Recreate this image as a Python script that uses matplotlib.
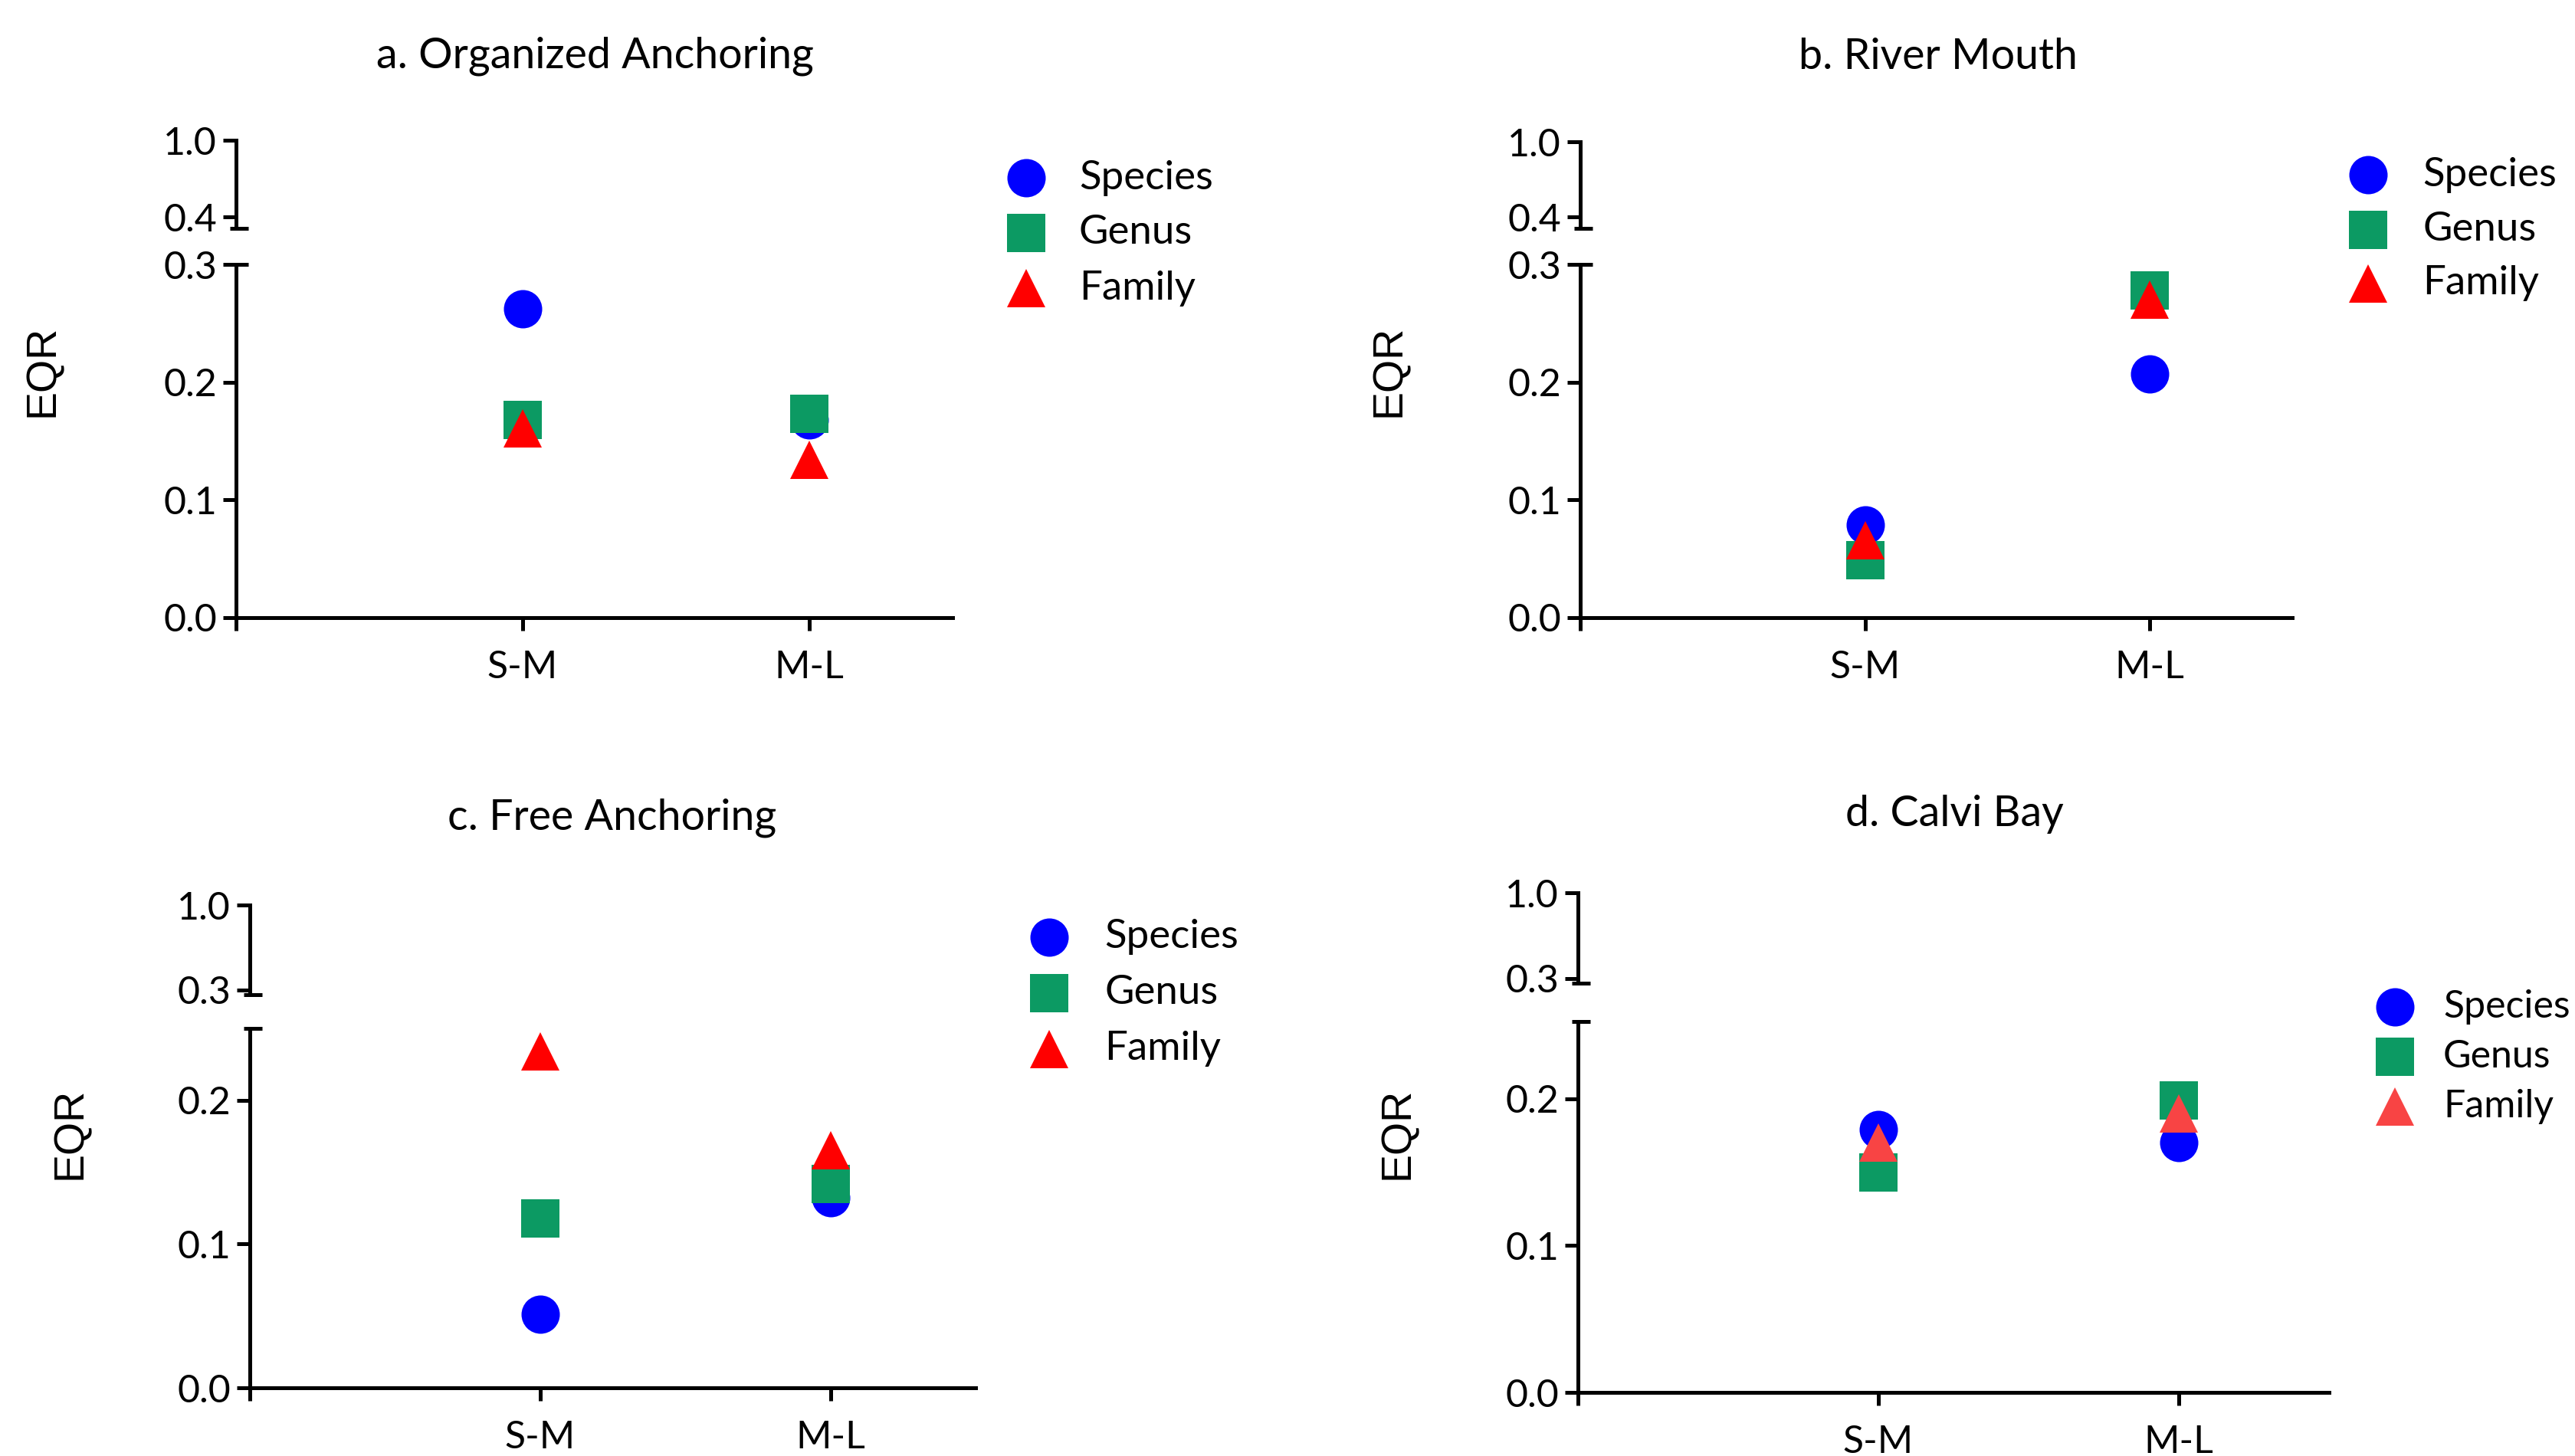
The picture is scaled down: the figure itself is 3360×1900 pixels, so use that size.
import matplotlib
matplotlib.use("Agg")
import matplotlib.pyplot as plt

plt.rcParams['font.family'] = ['Lato', 'DejaVu Sans']

W, H = 3360, 1900
DPI = 200

categories = ['S-M', 'M-L']
series_names = ['Species', 'Genus', 'Family']

# EQR values (S-M, M-L)
species_a = [0.262, 0.168]
genus_a = [0.168, 0.173]
family_a = [0.161, 0.134]

species_b = [0.079, 0.207]
genus_b = [0.049, 0.278]
family_b = [0.066, 0.270]

species_c = [0.051, 0.132]
genus_c = [0.118, 0.142]
family_c = [0.234, 0.165]

species_d = [0.179, 0.170]
genus_d = [0.150, 0.199]
family_d = [0.170, 0.190]

titles = ['a. Organized Anchoring', 'b. River Mouth', 'c. Free Anchoring', 'd. Calvi Bay']

blue = '#0000FF'
green = '#0C9A63'
red = '#FF0000'
light_red = '#F84444'

LW = 1.8
MS = 18


def fx(px):
    return px / W


def fy(py):
    return 1 - py / H


def cap(ax, where, left_px, right_px):
    # short horizontal stub across the axis line at a segment end
    w_px = ax.get_position().width * W
    ax.plot([-left_px / w_px, right_px / w_px], [where, where], color='black',
            lw=LW, transform=ax.transAxes, clip_on=False, solid_capstyle='butt')


def panel(fig, x0, x1, low, up, low_max, up_min, up_ticks, low_ticks,
          data, colors, title, title_xy, eqr_xy, leg_x, leg_tx, leg_y, leg_fs=19):
    # low = (y of 0, y of top) in px, up = (y of 1.0, y of bottom) in px
    axl = fig.add_axes([fx(x0), fy(low[0]), fx(x1 - x0), (low[0] - low[1]) / H])
    axu = fig.add_axes([fx(x0), fy(up[1]), fx(x1 - x0), (up[1] - up[0]) / H])

    x = [1, 2]
    markers = ['o', 's', '^']
    # all values sit below the break, so only the lower segment gets marks
    for vals, m, c in zip(data, markers, colors):
        axl.plot(x, vals, linestyle='none', marker=m, ms=MS, color=c, mew=0)

    for ax in (axl, axu):
        ax.set_xlim(0, 2.5)
        for s in ['top', 'right']:
            ax.spines[s].set_visible(False)
        ax.spines['left'].set_linewidth(LW)
        ax.spines['bottom'].set_linewidth(LW)
        ax.tick_params(direction='out', length=6, width=LW, labelsize=18, pad=3)
        ax.patch.set_alpha(0)

    axl.set_ylim(0, low_max)
    axl.set_yticks(low_ticks)
    axl.set_yticklabels([f'{t:.1f}' for t in low_ticks])
    axl.set_xticks([0, 1, 2])
    axl.set_xticklabels([''] + categories)
    axl.tick_params(axis='x', labelsize=18, pad=9)

    axu.set_ylim(up_min, 1.0)
    axu.set_yticks(up_ticks)
    axu.set_yticklabels([f'{t:.1f}' for t in up_ticks])
    axu.spines['bottom'].set_visible(False)
    axu.set_xticks([])

    cap(axl, 1, 8, 16)
    cap(axu, 0, 8, 16)

    fig.text(fx(title_xy[0]), fy(title_xy[1]), title, ha='center', va='center',
             fontsize=20)
    fig.text(fx(eqr_xy[0]), fy(eqr_xy[1]), 'EQR', ha='center', va='center',
             rotation=90, fontsize=20, family='Liberation Sans')

    for i, (name, m, c) in enumerate(zip(series_names, markers, colors)):
        fig.add_artist(plt.Line2D([fx(leg_x)], [fy(leg_y[i])], marker=m, ms=MS,
                                  color=c, mew=0, linestyle='none',
                                  transform=fig.transFigure))
        fig.text(fx(leg_tx), fy(leg_y[i]), name, ha='left', va='center',
                 fontsize=leg_fs)


fig = plt.figure(figsize=(W / DPI, H / DPI), dpi=DPI)

panel(fig, 308, 1243, (806, 345), (183, 298), 0.3, 0.31, [0.4, 1.0],
      [0.0, 0.1, 0.2, 0.3], [species_a, genus_a, family_a], [blue, green, red],
      titles[0], (776, 73), (56, 484), 1339, 1408, [232, 304, 376])

panel(fig, 2062, 2991, (806, 345), (185, 298), 0.3, 0.31, [0.4, 1.0],
      [0.0, 0.1, 0.2, 0.3], [species_b, genus_b, family_b], [blue, green, red],
      titles[1], (2529, 75), (1813, 484), 3090, 3161, [228, 300, 370])

panel(fig, 326, 1273, (1811, 1342), (1181, 1298), 0.25, 0.26, [0.3, 1.0],
      [0.0, 0.1, 0.2], [species_c, genus_c, family_c], [blue, green, red],
      titles[2], (799, 1067), (92, 1479), 1369, 1441, [1223, 1296, 1369])

panel(fig, 2059, 3039, (1817, 1333), (1165, 1283), 0.2527, 0.26, [0.3, 1.0],
      [0.0, 0.1, 0.2], [species_d, genus_d, family_d], [blue, green, light_red],
      titles[3], (2550, 1062), (1824, 1479), 3125, 3188, [1314, 1379, 1444],
      leg_fs=18)

fig.savefig('out.png', dpi=DPI)
